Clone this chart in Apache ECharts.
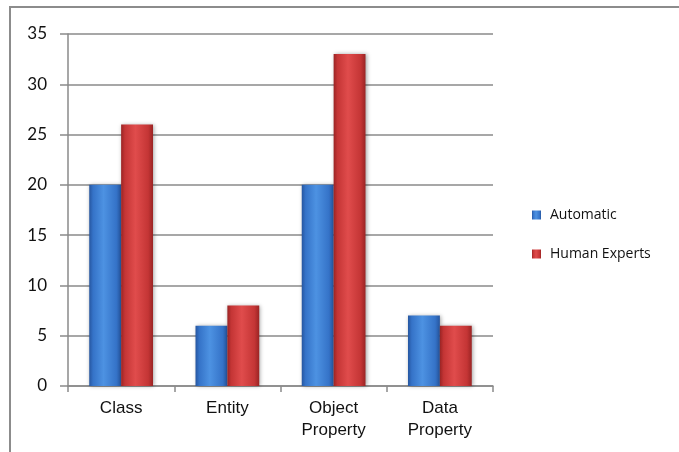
<!DOCTYPE html>
<html>
<head>
<meta charset="utf-8">
<script src="https://cdn.jsdelivr.net/npm/echarts@6/dist/echarts.min.js"></script>
<style>
  html, body { margin: 0; padding: 0; background: #fff; }
  #chart { width: 679px; height: 452px; }
</style>
</head>
<body>
<div id="chart"></div>
<script>
// Category names along the x axis
const categories = ['Class', 'Entity', 'Object\nProperty', 'Data\nProperty'];
// Series values
const automatic = [20, 6, 20, 7];
const humanExperts = [26, 8, 33, 6];
// Y axis ticks
const yMin = 0, yMax = 35, yStep = 5;

// Horizontal gradient that gives each bar a rounded, cylinder look
function barGradient(edge, mid, light) {
  return new echarts.graphic.LinearGradient(0, 0, 1, 0, [
    { offset: 0, color: edge },
    { offset: 0.12, color: mid },
    { offset: 0.45, color: light },
    { offset: 0.85, color: mid },
    { offset: 1, color: edge }
  ]);
}

const chart = echarts.init(document.getElementById('chart'), null, { renderer: 'canvas' });

const axisGray = '#8a8a8a';

chart.setOption({
  animation: false,
  backgroundColor: '#fff',
  graphic: [{
    type: 'rect',
    shape: { x: 10, y: 7, width: 720, height: 520 },
    style: { fill: 'none', stroke: '#8c8c8c', lineWidth: 2 },
    silent: true,
    z: -1
  }],
  grid: { left: 68, top: 34, right: 186, bottom: 66, containLabel: false },
  legend: {
    orient: 'vertical',
    left: 527,
    top: 203,
    itemWidth: 9,
    itemHeight: 9,
    itemGap: 25,
    icon: 'rect',
    textStyle: { fontFamily: '"Open Sans", Lato, sans-serif', fontSize: 14, color: '#111', padding: [0, 0, 0, 4] },
    data: ['Automatic', 'Human Experts']
  },
  xAxis: {
    type: 'category',
    data: categories,
    axisLine: { lineStyle: { color: axisGray, width: 1.5 } },
    axisTick: { show: true, length: 6, alignWithLabel: false, lineStyle: { color: axisGray, width: 1.5 } },
    axisLabel: {
      margin: 11,
      fontFamily: '"Liberation Sans", Arial, sans-serif',
      fontSize: 17,
      lineHeight: 22,
      color: '#111'
    }
  },
  yAxis: {
    type: 'value',
    min: yMin,
    max: yMax,
    interval: yStep,
    axisLine: { show: true, lineStyle: { color: axisGray, width: 1.5 } },
    axisTick: { show: true, length: 8, lineStyle: { color: axisGray, width: 1.5 } },
    axisLabel: {
      margin: 21,
      fontFamily: 'Lato, "Open Sans", sans-serif',
      fontSize: 17,
      color: '#111'
    },
    splitLine: { lineStyle: { color: axisGray, width: 1.5 } }
  },
  series: [
    {
      name: 'Automatic',
      type: 'bar',
      data: automatic,
      barGap: '0%',
      barCategoryGap: '40%',
      itemStyle: {
        color: barGradient('#2656a0', '#3573c8', '#4d92e2'),
        shadowColor: 'rgba(0,0,0,0.35)',
        shadowBlur: 4,
        shadowOffsetX: 1,
        shadowOffsetY: 0
      }
    },
    {
      name: 'Human Experts',
      type: 'bar',
      data: humanExperts,
      itemStyle: {
        color: barGradient('#9a2424', '#c43535', '#e04c4c'),
        shadowColor: 'rgba(0,0,0,0.35)',
        shadowBlur: 4,
        shadowOffsetX: 1,
        shadowOffsetY: 0
      }
    }
  ]
});
</script>
</body>
</html>
